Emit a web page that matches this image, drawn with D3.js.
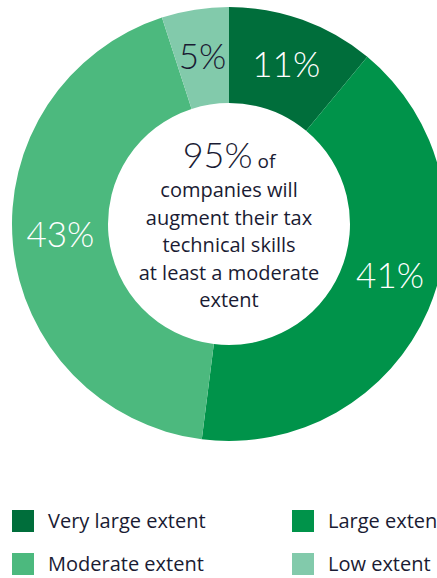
<!DOCTYPE html>
<html>
<head>
<meta charset="utf-8">
<script src="https://cdn.jsdelivr.net/npm/d3@7"></script>
<style>
  html, body { margin: 0; padding: 0; background: #fff; overflow: hidden; }
  svg { display: block; }
</style>
</head>
<body>
<div id="chart"></div>
<script>
// Chart data
const categories = ["Very large extent", "Large extent", "Moderate extent", "Low extent"];
const values = [11, 41, 43, 5];
const colors = ["#006e3b", "#00934a", "#4cb97e", "#82caab"];
const labelColors = ["#ffffff", "#ffffff", "#ffffff", "#1a1b33"];
const centerLines = ["companies will", "augment their tax", "technical skills", "at least a moderate", "extent"];

const width = 437;
const height = 578;
const cx = 229, cy = 224;
const outerR = 217, innerR = 121, labelR = 169;
const numFont = "Lato, sans-serif";
const font = "'Open Sans', sans-serif";
const ink = "#1a1b33";
// small angular nudges (radians) so labels sit where the original placed them
const labelNudge = [0, -0.1, 0.03, 0];

const svg = d3.select("#chart")
  .append("svg")
  .attr("width", width)
  .attr("height", height);

const pie = d3.pie().sort(null).value(d => d);
const arcs = pie(values);

const arc = d3.arc().innerRadius(innerR).outerRadius(outerR);

const g = svg.append("g").attr("transform", `translate(${cx},${cy})`);

// Donut slices
g.selectAll("path")
  .data(arcs)
  .join("path")
  .attr("fill", (d, i) => colors[i])
  .attr("d", arc);

// Percentage labels
g.selectAll("text.pct")
  .data(arcs)
  .join("text")
  .attr("class", "pct")
  .attr("transform", (d, i) => {
    const a = (d.startAngle + d.endAngle) / 2 + labelNudge[i];
    return `translate(${Math.sin(a) * labelR},${-Math.cos(a) * labelR})`;
  })
  .attr("text-anchor", "middle")
  .attr("dy", "0.35em")
  .attr("font-family", numFont)
  .attr("font-weight", 300)
  .attr("font-size", 35)
  .attr("fill", (d, i) => labelColors[i])
  .text(d => d.data + "%");

// Centre text
const total = values[0] + values[1] + values[2];
const head = g.append("text")
  .attr("text-anchor", "middle")
  .attr("y", -56)
  .attr("font-family", numFont)
  .attr("fill", ink);
head.append("tspan").attr("font-size", 36).attr("font-weight", 300).text(total + "%");
head.append("tspan").attr("font-family", font).attr("font-size", 19).text(" of");

g.append("g")
  .selectAll("text")
  .data(centerLines)
  .join("text")
  .attr("text-anchor", "middle")
  .attr("y", (d, i) => -27 + i * 27.5)
  .attr("font-family", font)
  .attr("font-size", 20)
  .attr("fill", ink)
  .text(d => d);

// Legend
const legend = svg.append("g")
  .selectAll("g")
  .data(categories)
  .join("g")
  .attr("transform", (d, i) => `translate(${12 + (i % 2) * 280},${510 + Math.floor(i / 2) * 43})`);

legend.append("rect")
  .attr("width", 22)
  .attr("height", 22)
  .attr("fill", (d, i) => colors[i]);

legend.append("text")
  .attr("x", 36)
  .attr("y", 18)
  .attr("font-family", font)
  .attr("font-size", 20)
  .attr("fill", ink)
  .text(d => d);
</script>
</body>
</html>
